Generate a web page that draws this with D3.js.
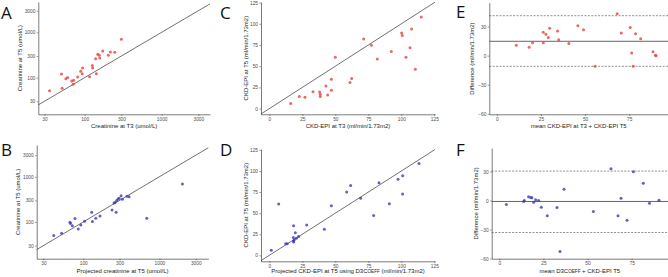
<!DOCTYPE html>
<html lang="en">
<head>
    <meta charset="UTF-8">
    <title>Creatinine and CKD-EPI panels</title>
    <script src="https://d3js.org/d3.v7.min.js"></script>
    <style>
        body { margin: 0; background: #fff; }
        svg { font-family: "Liberation Sans", Arial, sans-serif; }
        .axis path { stroke: #222; stroke-width: 0.6; }
        .axis line { stroke: #333; stroke-width: 0.5; }
        .axis text { fill: #4d4d4d; font-size: 4.8px; }
        .title { font-size: 6px; fill: #222; }
        .letter { font-family: "Open Sans", "Liberation Sans", sans-serif; font-size: 17px; fill: #111; }
    </style>
</head>
<body>
<script>
    const width  = 668;
    const height = 277;

    // A: creatinine T3 vs T5 (log)
    const creatT3  = [35, 50, 51, 57, 60, 68, 72, 71, 81, 89, 93, 94, 116, 126, 127, 142, 139, 148, 155, 157, 172, 203, 216, 246, 300];
    const creatT5A = [51, 120, 58, 95, 100, 84, 87, 71, 103, 138, 122, 163, 105, 184, 163, 122, 262, 326, 310, 271, 387, 310, 367, 361, 700];

    // B: projected creatinine T5 vs creatinine T5 (log)
    const projCreatT5 = [41, 52, 67, 68, 72, 78, 86, 93, 104, 129, 132, 146, 166, 239, 254, 262, 270, 275, 287, 296, 314, 327, 376, 400, 682, 2005];
    const creatT5B    = [50, 56, 99, 92, 82, 119, 70, 86, 104, 164, 102, 121, 136, 185, 264, 269, 164, 297, 324, 335, 378, 318, 371, 359, 121, 695];

    // C: CKD-EPI T3 vs T5
    const ckdT3  = [16.2, 22.7, 27.0, 33.1, 38.1, 38.6, 38.6, 44.2, 42.9, 47.0, 47.0, 50.0, 61.1, 62.4, 71.5, 77.3, 81.8, 92.4, 100.2, 100.7, 103.5, 106.6, 107.8, 110.6, 115.1];
    const ckdT5C = [5.9, 14.2, 13.4, 20.0, 19.7, 16.9, 14.2, 16.1, 26.7, 21.6, 34.6, 60.5, 30.7, 35.4, 82.2, 74.7, 58.6, 67.2, 89.2, 86.1, 60.5, 71.9, 93.9, 46.4, 108.1];

    // D: projected CKD-EPI T5 (D3Coeff) vs CKD-EPI T5
    const projCkdT5 = [1.5, 7.1, 12.4, 13.6, 18.4, 19.7, 18.2, 18.4, 18.9, 18.4, 20.5, 22.2, 28.3, 41.7, 47.0, 58.6, 61.6, 69.2, 79.0, 83.1, 90.9, 97.5, 101.0, 101.0, 113.4];
    const ckdT5D    = [5.9, 60.9, 13.8, 13.8, 35.2, 26.9, 21.0, 17.0, 18.6, 15.8, 20.2, 22.2, 36.0, 30.9, 58.9, 75.2, 82.7, 67.6, 47.1, 86.2, 61.3, 90.2, 94.5, 72.8, 108.8];

    // E: Bland-Altman T3 vs T5
    const meanE = [11.0, 18.3, 20.2, 26.3, 26.3, 27.8, 29.1, 29.9, 34.4, 35.0, 40.8, 45.9, 49.1, 55.6, 68.2, 70.5, 75.6, 76.4, 77.3, 78.6, 81.5, 88.5, 90.2, 89.9];
    const diffE = [10.7, 8.6, 13.4, 13.4, 24.1, 22.0, 18.6, 28.2, 25.4, 16.5, 12.4, 30.9, 26.8, -11.0, 43.3, 23.4, 28.9, 2.7, -11.0, 22.7, 17.5, 4.1, 0.0, 0.3];
    const linesE = [14.8, -11.0, 41.2];   // bias, lower, upper

    // F: Bland-Altman D3Coeff vs T5
    const meanF = [4.0, 13.8, 14.2, 16.6, 17.8, 18.5, 19.5, 20.6, 22.3, 23.8, 27.2, 32.7, 36.7, 34.4, 53.3, 63.3, 67.3, 69.0, 72.4, 76.0, 81.6, 85.1, 90.5];
    const diffF = [-4.1, -1.0, 0.0, 3.8, 3.1, 2.8, -1.7, 0.7, 0.0, -6.9, -15.9, -7.2, 11.7, -52.8, -11.4, 32.8, -15.9, 2.4, -20.4, 29.7, 17.9, -2.8, 0.3];
    const linesF = [-1.0, -33.1, 30.4];

    const logTicks = [30, 100, 300, 1000, 3000];
    const ckdTicks = [0, 25, 50, 75, 100, 125];
    const baXTicks = [0, 25, 50, 75];
    const baYTicks = [-60, -30, 0, 30];

    const red  = "#e3433f";
    const blue = "#3b3bb5";

    const svg = d3.select("body").append("svg").attr("width", width).attr("height", height);

    function panel(p) {
        const x = (p.log ? d3.scaleLog() : d3.scaleLinear()).domain(p.xDom).range([p.left, p.right]);
        const y = (p.logY ? d3.scaleLog() : d3.scaleLinear()).domain(p.yDom).range([p.bottom, p.top]);
        const g = svg.append("g");

        const fmt = d3.format("d");
        g.append("g").attr("class", "axis")
            .attr("transform", `translate(0,${p.bottom})`)
            .call(d3.axisBottom(x).tickValues(p.xTicks).tickFormat(fmt).tickSize(1.6).tickPadding(1.4).tickSizeOuter(0));
        g.append("g").attr("class", "axis")
            .attr("transform", `translate(${p.left},0)`)
            .call(d3.axisLeft(y).tickValues(p.yTicks).tickFormat(fmt).tickSize(1.6).tickPadding(1.4).tickSizeOuter(0));

        if (p.identity) {
            const t0 = Math.max(p.xDom[0], p.yDom[0]);
            const t1 = Math.min(p.xDom[1], p.yDom[1]);
            g.append("line")
                .attr("x1", x(t0)).attr("y1", y(t0))
                .attr("x2", x(t1)).attr("y2", y(t1))
                .attr("stroke", "#333").attr("stroke-width", 0.7);
        }
        if (p.hlines) {
            g.selectAll("line.h")
                .data(p.hlines)
                .enter()
                .append("line")
                .attr("class", "h")
                .attr("x1", x(p.xDom[0])).attr("x2", x(p.xDom[1]))
                .attr("y1", d => y(d)).attr("y2", d => y(d))
                .attr("stroke", (d, i) => i === 0 ? "#555" : "#444")
                .attr("stroke-width", (d, i) => i === 0 ? 0.9 : 0.6)
                .attr("stroke-dasharray", (d, i) => i === 0 ? null : "2,1.4");
        }

        g.selectAll("circle")
            .data(p.xs.map((v, i) => [v, p.ys[i]]))
            .enter()
            .append("circle")
            .attr("cx", d => x(d[0]))
            .attr("cy", d => y(d[1]))
            .attr("r", 1.5)
            .attr("fill", p.color)
            .attr("fill-opacity", 0.8);

        const xt = g.append("text").attr("class", "title")
            .attr("x", (p.left + p.right) / 2).attr("y", p.xTitleY)
            .attr("text-anchor", "middle");
        p.xTitle.forEach(s => xt.append("tspan").text(s[0]).style("font-size", s[1] ? "4.6px" : null));

        const yt = g.append("text").attr("class", "title")
            .attr("transform", `translate(${p.yTitleX},${(p.top + p.bottom) / 2}) rotate(-90)`)
            .attr("text-anchor", "middle");
        p.yTitle.forEach(s => yt.append("tspan").text(s[0]).style("font-size", s[1] ? "4.6px" : null));

        svg.append("text").attr("class", "letter")
            .attr("x", p.letterX).attr("y", p.letterY).text(p.letter);
    }

    panel({letter: "A", letterX: 1, letterY: 19, log: true, logY: true,
        xDom: [25, 4250], yDom: [15.5, 4670], left: 38.3, right: 210, top: 2, bottom: 114.3,
        xTicks: logTicks, yTicks: logTicks, xs: creatT3, ys: creatT5A, color: red, identity: true,
        xTitle: [["Creatinine at T3 (umol/L)"]], yTitle: [["Creatinine at T5 (umol/L)"]],
        xTitleY: 127.5, yTitleX: 22});

    panel({letter: "B", letterX: 1, letterY: 156, log: true, logY: true,
        xDom: [24.5, 4380], yDom: [15.4, 5040], left: 36.7, right: 208.3, top: 145, bottom: 258.7,
        xTicks: logTicks, yTicks: logTicks, xs: projCreatT5, ys: creatT5B, color: blue, identity: true,
        xTitle: [["Projected creatinine at T5 (umol/L)"]], yTitle: [["Creatinine at T5 (umol/L)"]],
        xTitleY: 272.5, yTitleX: 19.5});

    panel({letter: "C", letterX: 220, letterY: 19,
        xDom: [-6.3, 125.5], yDom: [-6.7, 125.7], left: 261, right: 435, top: 2, bottom: 114.3,
        xTicks: ckdTicks, yTicks: ckdTicks, xs: ckdT3, ys: ckdT5C, color: red, identity: true,
        xTitle: [["CKD-EPI at T3 (ml/min/1.73m2)"]], yTitle: [["CKD-EPI at T5 (ml/min/1.73m2)"]],
        xTitleY: 127.5, yTitleX: 247.5});

    panel({letter: "D", letterX: 220, letterY: 156,
        xDom: [-6.3, 125.5], yDom: [-7.1, 126.1], left: 261, right: 435, top: 149, bottom: 261.3,
        xTicks: ckdTicks, yTicks: ckdTicks, xs: projCkdT5, ys: ckdT5D, color: blue, identity: true,
        xTitle: [["Projected CKD-EPI at T5 using D3C"], ["OEFF", true], [" (ml/min/1.73m2)"]],
        yTitle: [["CKD-EPI at T5 (ml/min/1.73m2)"]],
        xTitleY: 272.5, yTitleX: 248});

    panel({letter: "E", letterX: 456, letterY: 18,
        xDom: [-4.3, 97], yDom: [-60.5, 54.6], left: 489.3, right: 668, top: 2.7, bottom: 114.3,
        xTicks: baXTicks, yTicks: baYTicks, xs: meanE, ys: diffE, color: red, hlines: linesE,
        xTitle: [["mean CKD-EPI at T3 + CKD-EPI T5"]], yTitle: [["Difference (ml/min/1.73m2)"]],
        xTitleY: 127.5, yTitleX: 473.5});

    panel({letter: "F", letterX: 456, letterY: 156,
        xDom: [-4.3, 95.6], yDom: [-60.2, 54.3], left: 491.7, right: 668, top: 148, bottom: 258.7,
        xTicks: baXTicks, yTicks: baYTicks, xs: meanF, ys: diffF, color: blue, hlines: linesF,
        xTitle: [["mean D3C"], ["OEFF", true], [" + CKD-EPI T5"]], yTitle: [["Difference (ml/min/1.73m2)"]],
        xTitleY: 272.5, yTitleX: 478});
</script>
</body>
</html>
